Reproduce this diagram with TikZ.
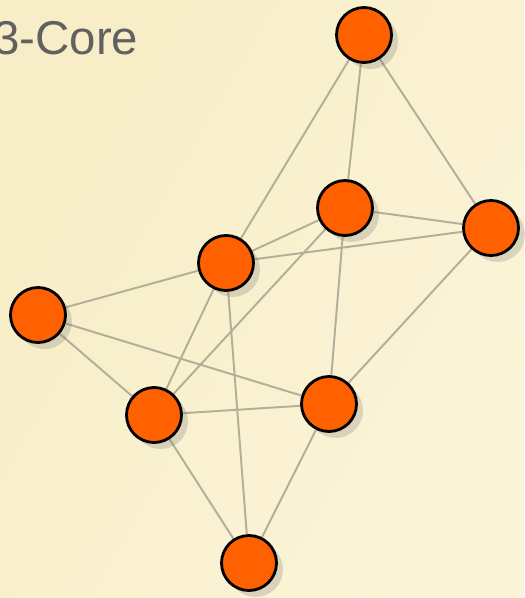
\documentclass[tikz,border=0pt]{standalone}
\usepackage{fontspec}
\setmainfont{Liberation Sans}
\usetikzlibrary{shadows}

\definecolor{paper}{HTML}{F7EDC6}
\definecolor{paperlight}{HTML}{FBF4D8}
\definecolor{vertexfill}{HTML}{FF6000}
\definecolor{edgegray}{HTML}{B5AD98}
\definecolor{titlegray}{HTML}{616161}

\pgfdeclarelayer{bg}
\pgfdeclarelayer{edges}
\pgfsetlayers{bg,edges,main}

\tikzset{
  vertex/.style={circle, draw=black, line width=1.6pt, fill=vertexfill,
    minimum size=1.1cm, inner sep=0pt,
    drop shadow={shadow xshift=0.13cm, shadow yshift=-0.13cm, opacity=0.22, fill=black!60}},
  edge/.style={draw=edgegray, line width=1.1pt}
}

\begin{document}
\begin{tikzpicture}[x=0.02cm, y=-0.02cm]

% background
\begin{pgfonlayer}{bg}
\shade[top color=paper, bottom color=paperlight, shading angle=60] (0,0) rectangle (524,598);
\end{pgfonlayer}
\useasboundingbox (0,0) rectangle (524,598);

\node[text=titlegray, anchor=base west, inner sep=0pt, font=\fontsize{27}{32}\selectfont] (title) at (-7,55) {3-Core};

% vertices
\node[vertex] (a) at (364,35) {};
\node[vertex] (b) at (345,208) {};
\node[vertex] (c) at (491,228) {};
\node[vertex] (d) at (226,263) {};
\node[vertex] (e) at (38,315) {};
\node[vertex] (f) at (329,404) {};
\node[vertex] (g) at (154,415) {};
\node[vertex] (h) at (249,563) {};

% edges
\begin{pgfonlayer}{edges}
\foreach \u/\v in {a/b,a/c,a/d,b/c,b/d,b/g,b/f,c/d,c/f,d/e,d/g,d/h,e/g,e/f,g/f,g/h,f/h}
  \draw[edge] (\u) -- (\v);
\end{pgfonlayer}

\end{tikzpicture}
\end{document}
